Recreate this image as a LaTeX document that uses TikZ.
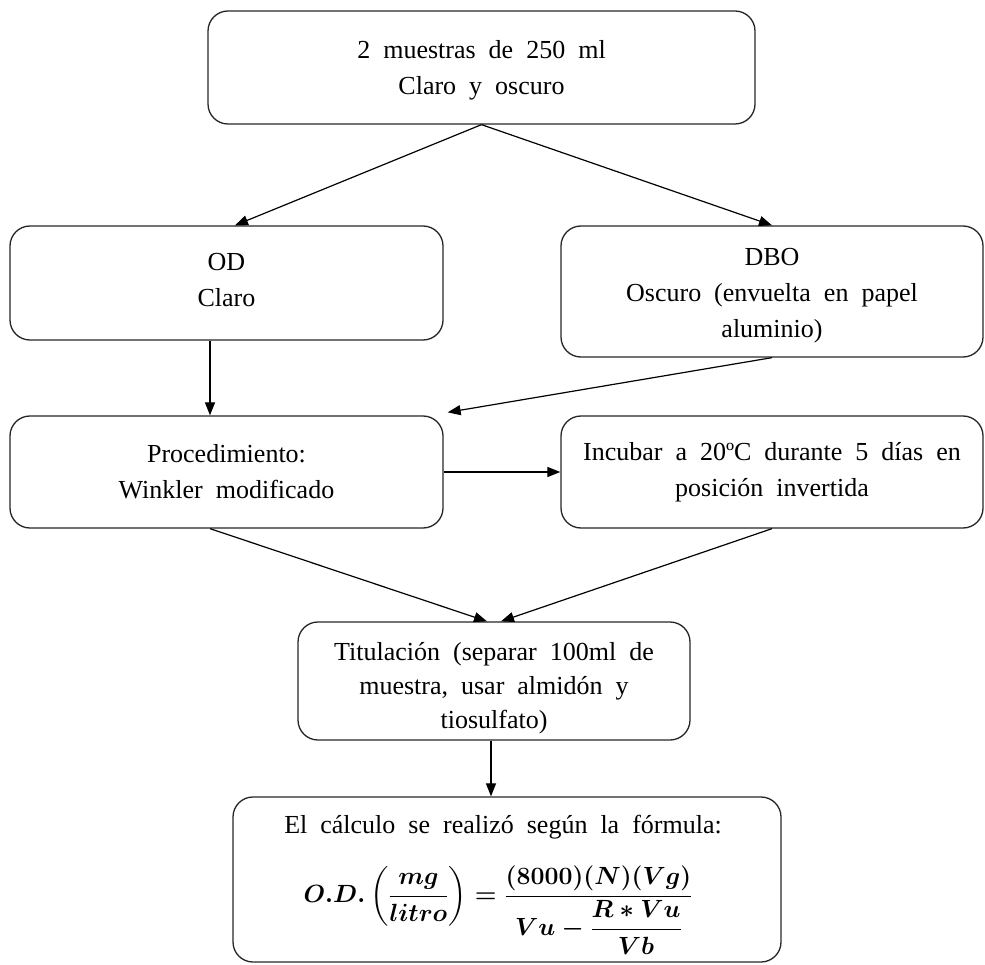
\documentclass[tikz,border=0pt]{standalone}
\usepackage{amsmath}
\usepackage{fontspec}
\setmainfont{Liberation Serif}[WordSpace=2.0]
\usetikzlibrary{arrows.meta,calc}
\newsavebox{\odbox}
\begin{document}
\sbox{\odbox}{\fontsize{27.5}{32}\selectfont\boldmath$\displaystyle O.D.\left(\frac{mg}{litro}\right) = \frac{(8000)(N)(Vg)}{Vu-\dfrac{R\ast Vu}{Vb}}$}%
\begin{tikzpicture}[x=1pt,y=-1pt,
  box/.style={draw=black!85, line width=1.3pt, rounded corners=20pt, inner sep=0pt},
  txt/.style={align=center, font=\fontsize{26}{36}\selectfont, inner sep=0pt},
  frm/.style={inner sep=0pt},
  arr/.style={-{Triangle[length=13pt,width=10pt]}, line width=1.2pt}]
\useasboundingbox (0,0) rectangle (985,965);
% boxes
\node[box, minimum width=547pt, minimum height=113pt] (b1) at (481.5,67.5) {};
\node[box, minimum width=433pt, minimum height=114pt] (b2) at (226.5,283) {};
\node[box, minimum width=422pt, minimum height=131pt] (b3) at (772,291.5) {};
\node[box, minimum width=433pt, minimum height=112pt] (b4) at (226.5,472) {};
\node[box, minimum width=422pt, minimum height=112pt] (b5) at (772,472) {};
\node[box, minimum width=392pt, minimum height=118pt] (b6) at (494,681) {};
\node[box, minimum width=548pt, minimum height=165pt] (b7) at (507,879.5) {};
% texts
\node[txt] (t1) at (481.5,70) {2 muestras de 250 ml\\Claro y oscuro};
\node[txt] (t2) at (226.5,280) {OD\\Claro};
\node[txt] (t3) at (772,296) {DBO\\Oscuro (envuelta en papel\\aluminio)};
\node[txt] (t4) at (226.5,472) {Procedimiento:\\Winkler modificado};
\node[txt] (t5) at (772,472) {Incubar a 20ºC durante 5 días en\\posición invertida};
\node[txt, font=\fontsize{26}{34}\selectfont] (t6) at (494,688) {Titulación (separar 100ml de\\muestra, usar almidón y\\tiosulfato)};
\node[txt] (t7a) at (503,827) {El cálculo se realizó según la fórmula:};
\node[frm] (t7b) at (498,910) {\usebox{\odbox}};
% connectors
\draw[arr] (b1.south) -- ($(b2.north)+(8.5,0)$);
\draw[arr] (b1.south) -- (b3.north);
\draw[arr] ($(b2.south)+(-16.5,0)$) -- ($(b4.north)+(-16.5,0)$);
\draw[arr] (b3.south) -- ($(b4.north east)+(4,-3)$);
\draw[arr] (b4.east) -- (b5.west);
\draw[arr] ($(b4.south)+(-16.5,0)$) -- ($(b6.north)+(-7,0)$);
\draw[arr] (b5.south) -- ($(b6.north)+(7,0)$);
\draw[arr] ($(b6.south)+(-3,0)$) -- ($(b7.north)+(-16,0)$);
\end{tikzpicture}
\end{document}
